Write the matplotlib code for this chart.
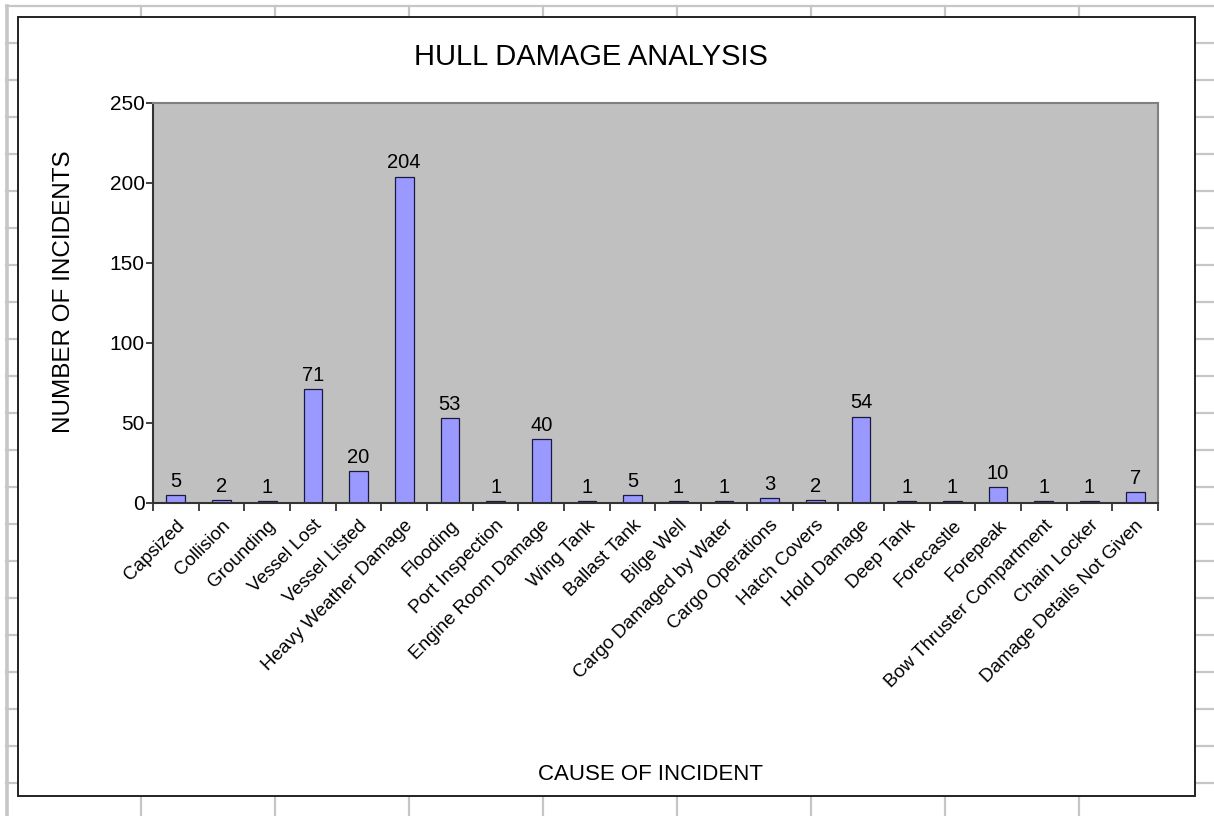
import matplotlib
matplotlib.use("Agg")
import matplotlib.pyplot as plt
from matplotlib.lines import Line2D
from matplotlib.patches import Rectangle

plt.rcParams['font.family'] = ['Liberation Sans', 'DejaVu Sans']

causes = [
    "Capsized", "Collision", "Grounding", "Vessel Lost", "Vessel Listed",
    "Heavy Weather Damage", "Flooding", "Port Inspection", "Engine Room Damage",
    "Wing Tank", "Ballast Tank", "Bilge Well", "Cargo Damaged by Water",
    "Cargo Operations", "Hatch Covers", "Hold Damage", "Deep Tank",
    "Forecastle", "Forepeak", "Bow Thruster Compartment", "Chain Locker",
    "Damage Details Not Given",
]
incidents = [5, 2, 1, 71, 20, 204, 53, 1, 40, 1, 5, 1, 1, 3, 2, 54, 1, 1, 10, 1, 1, 7]
y_ticks = [0, 50, 100, 150, 200, 250]

W, H = 1214, 816
fig = plt.figure(figsize=(W / 100, H / 100), dpi=100)
fig.patch.set_facecolor("white")


def fx(px):
    return px / W


def fy(py):
    return 1 - py / H


# worksheet cell grid behind the chart object
grid_kw = dict(color="#c6c6c6", lw=1.6, transform=fig.transFigure, zorder=-3)
for x in [141 + 134 * k for k in range(8)]:
    fig.add_artist(Line2D([fx(x), fx(x)], [fy(6), fy(H)], **grid_kw))
for y in [6 + 37 * k for k in range(22)]:
    fig.add_artist(Line2D([fx(6), fx(W)], [fy(y), fy(y)], **grid_kw))
fig.add_artist(Line2D([fx(6.5), fx(6.5)], [fy(6), fy(H)],
                      color="#c6c6c6", lw=2.6, transform=fig.transFigure, zorder=-3))

# chart object frame
fig.add_artist(Rectangle((fx(18), fy(796)), fx(1195) - fx(18), fy(17) - fy(796),
                         transform=fig.transFigure, facecolor="white",
                         edgecolor="#222222", lw=1.4, zorder=-2))

ax = fig.add_axes([fx(153), fy(503), fx(1158) - fx(153), fy(103) - fy(503)])
ax.set_facecolor("#c0c0c0")

xs = list(range(len(causes)))
bars = ax.bar(xs, incidents, width=0.41, color="#9999ff",
              edgecolor="#1a1a40", linewidth=0.9, zorder=2)
ax.bar_label(bars, labels=[str(v) for v in incidents], padding=3,
             fontsize=14.5, color="black")

ax.set_xlim(-0.5, len(causes) - 0.5)
ax.set_ylim(0, 250)
ax.set_yticks(y_ticks)
ax.set_yticklabels([str(t) for t in y_ticks], fontsize=15)

# category labels centred on bars, ticks on category boundaries
ax.set_xticks(xs)
ax.set_xticklabels(causes, rotation=45, ha="right", rotation_mode="anchor",
                   fontsize=13.5)
ax.tick_params(axis="x", which="major", length=0, pad=10)
ax.set_xticks([i - 0.5 for i in range(len(causes) + 1)], minor=True)
ax.tick_params(axis="x", which="minor", length=6, width=1.2, color="#222222",
               direction="out")
ax.tick_params(axis="y", length=5, width=1.2, color="#222222", pad=1)

for side in ("top", "right"):
    ax.spines[side].set_color("#808080")
    ax.spines[side].set_linewidth(1.5)
for side in ("left", "bottom"):
    ax.spines[side].set_color("#333333")
    ax.spines[side].set_linewidth(1.5)

fig.text(fx(591), fy(57), "HULL DAMAGE ANALYSIS", ha="center", va="center",
         fontsize=21)
fig.text(fx(651), fy(774), "CAUSE OF INCIDENT", ha="center", va="center",
         fontsize=16)
fig.text(fx(64), fy(292), "NUMBER OF INCIDENTS", ha="center", va="center",
         rotation=90, fontsize=17.5)

fig.savefig("out.png", dpi=100, facecolor="white")
